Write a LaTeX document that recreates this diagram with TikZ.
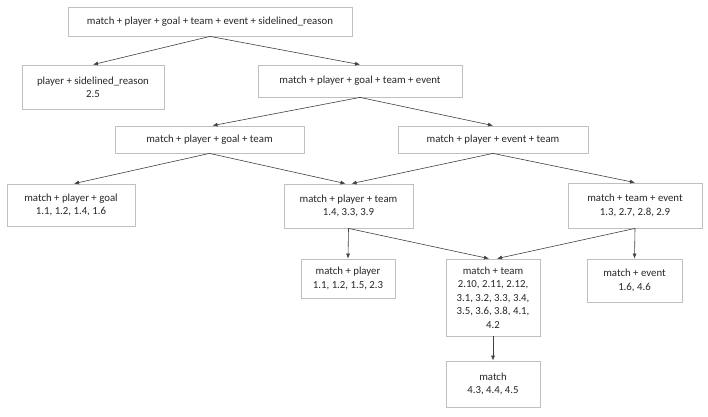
\documentclass[tikz,border=0pt]{standalone}
\usepackage{fontspec}
\setmainfont{Carlito}
\usetikzlibrary{arrows.meta}
\begin{document}
\begin{tikzpicture}[x=1pt,y=-1pt,
  box/.style={draw=black!25,line width=0.8pt,inner sep=0pt,align=center,text=black!85,font=\fontsize{10.8}{13.4}\selectfont},
  arr/.style={draw=black!75,line width=0.6pt,-{Latex[length=5pt,width=4pt]}}]
\useasboundingbox(0,0)rectangle(708,416);
\foreach \nm/\cx/\cy/\bw/\bh/\txt in {
  top/210/21.5/284/29/{match + player + goal + team + event + sidelined\_reason},
  ps/93/87/142/44/{player + sidelined\_reason\\2.5},
  mpgte/360/81/204/32/{match + player + goal + team + event},
  mpgt/209.5/139.5/189/27/{match + player + goal + team},
  mpet/493/139.5/190/27/{match + player + event + team},
  mpg/71/205/128/42/{match + player + goal\\1.1, 1.2, 1.4, 1.6},
  mpt/348.5/206/129/44/{match + player + team\\1.4, 3.3, 3.9},
  mte/635/205.5/134/45/{match + team + event\\1.3, 2.7, 2.8, 2.9},
  mp/348/278.5/94/39/{match + player\\1.1, 1.2, 1.5, 2.3},
  mt/493/297.5/94/77/{match + team\\2.10, 2.11, 2.12,\\3.1, 3.2, 3.3, 3.4,\\3.5, 3.6, 3.8, 4.1,\\4.2},
  me/634.5/280.5/95/43/{match + event\\1.6, 4.6},
  m/493/384/94/46/{match\\4.3, 4.4, 4.5}}{
  \node[box,minimum width=\bw pt,minimum height=\bh pt](\nm) at (\cx,\cy){\txt};}
\foreach \a/\b/\dx in {top/ps/0,top/mpgte/0,mpgte/mpgt/3,mpgte/mpet/0,mpgt/mpg/3,mpgt/mpt/-3,mpet/mpt/3,mpet/mte/0,mpt/mp/0,mpt/mt/-4,mte/mt/4,mte/me/0,mt/m/0}{
  \draw[arr](\a.south)--([xshift=\dx pt]\b.north);}
\end{tikzpicture}
\end{document}
